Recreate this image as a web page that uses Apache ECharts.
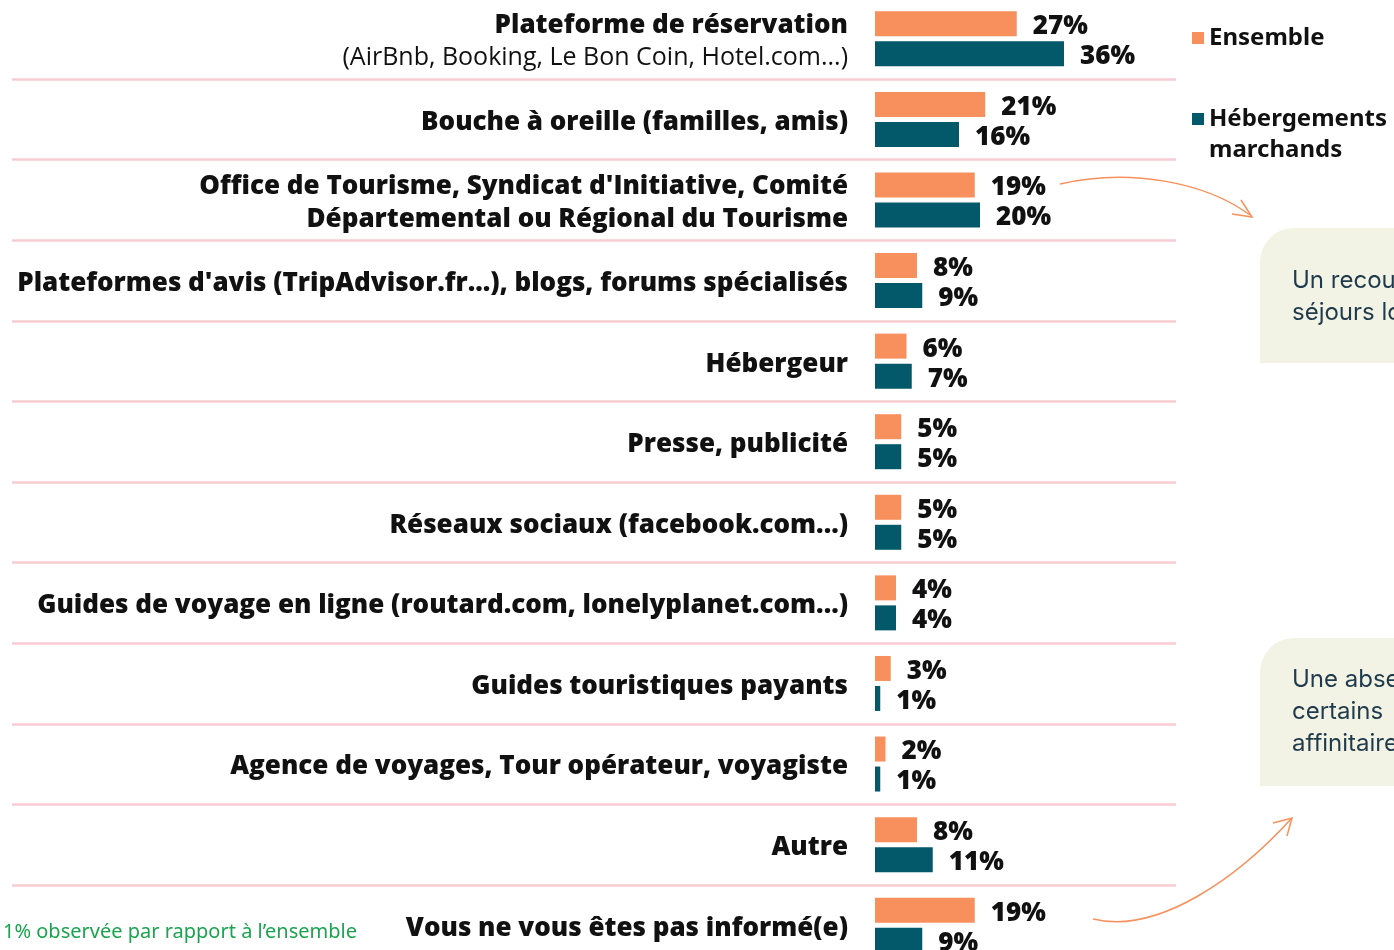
<!DOCTYPE html>
<html>
<head>
<meta charset="utf-8">
<script src="https://cdn.jsdelivr.net/npm/echarts@6/dist/echarts.min.js"></script>
<style>
  html, body { margin: 0; padding: 0; background: #fff; }
  #chart { width: 1394px; height: 950px; }
</style>
</head>
<body>
<div id="chart"></div>
<script>
// sources d'information
const categories = [
  'Plateforme de réservation',
  'Bouche à oreille (familles, amis)',
  "Office de Tourisme, Syndicat d'Initiative, Comité\nDépartemental ou Régional du Tourisme",
  "Plateformes d'avis (TripAdvisor.fr...), blogs, forums spécialisés",
  'Hébergeur',
  'Presse, publicité',
  'Réseaux sociaux (facebook.com...)',
  'Guides de voyage en ligne (routard.com, lonelyplanet.com...)',
  'Guides touristiques payants',
  'Agence de voyages, Tour opérateur, voyagiste',
  'Autre',
  'Vous ne vous êtes pas informé(e)'
];
const categoryNotes = ['(AirBnb, Booking, Le Bon Coin, Hotel.com...)', '', '', '', '', '', '', '', '', '', '', ''];
const ensemble = [27, 21, 19, 8, 6, 5, 5, 4, 3, 2, 8, 19];
const hebergements = [36, 16, 20, 9, 7, 5, 5, 4, 1, 1, 11, 9];

const orange = '#f7905c';
const teal = '#03596a';
const font = 'Open Sans';

const chart = echarts.init(document.getElementById('chart'));

const valueLabel = {
  show: true,
  position: 'right',
  distance: 16,
  offset: [0, 3],
  formatter: '{c}%',
  fontFamily: font,
  fontSize: 26,
  fontWeight: 800,
  color: '#111'
};

const legendText = { fontFamily: 'Noto Sans', fontSize: 24, fontWeight: 'bold', lineHeight: 31, color: '#111' };

const option = {
  backgroundColor: '#fff',
  animation: false,
  legend: [
    {
      data: ['Ensemble'],
      left: 1192, top: 22.5, padding: 0,
      icon: 'rect', itemWidth: 12, itemHeight: 12,
      textStyle: legendText
    },
    {
      data: ['Hébergements marchands'],
      left: 1192, top: 72.5, padding: 0,
      icon: 'rect', itemWidth: 12, itemHeight: 12,
      formatter: () => '\nHébergements\nmarchands',
      textStyle: legendText
    }
  ],
  grid: [
    { left: 12, width: 1164, top: -1.5, height: 967, outerBoundsMode: 'none', containLabel: false },
    { left: 875, width: 262.5, top: -1.5, height: 967, outerBoundsMode: 'none', containLabel: false }
  ],
  xAxis: [
    { gridIndex: 0, type: 'value', show: false, min: 0, max: 1 },
    { gridIndex: 1, type: 'value', show: false, min: 0, max: 50 }
  ],
  yAxis: [
    {
      gridIndex: 0, type: 'category', data: categories, inverse: true,
      axisLine: { show: false }, axisTick: { show: false }, axisLabel: { show: false },
      splitLine: { show: true, lineStyle: { color: '#f8cbd3', width: 2.5 } }
    },
    {
      gridIndex: 1, type: 'category', data: categories, inverse: true,
      axisLine: { show: false }, axisTick: { show: false }, splitLine: { show: false },
      axisLabel: {
        margin: 27,
        align: 'right',
        padding: [6, 0, 0, 0],
        formatter: (value, index) => {
          let s = value.split('\n').map(l => '{b|' + l + '}').join('\n');
          if (categoryNotes[index]) s += '\n{n|' + categoryNotes[index] + '}';
          return s;
        },
        rich: {
          b: { fontFamily: font, fontSize: 26, fontWeight: 800, color: '#111', lineHeight: 33 },
          n: { fontFamily: font, fontSize: 25, fontWeight: 'normal', color: '#111', lineHeight: 33 }
        }
      }
    }
  ],
  series: [
    {
      name: 'Ensemble', type: 'bar', xAxisIndex: 1, yAxisIndex: 1,
      data: ensemble, barWidth: 25, barGap: '20%',
      itemStyle: { color: orange },
      label: valueLabel
    },
    {
      name: 'Hébergements marchands', type: 'bar', xAxisIndex: 1, yAxisIndex: 1,
      data: hebergements, barWidth: 25, barGap: '20%',
      itemStyle: { color: teal },
      label: valueLabel
    }
  ],
  graphic: [
    // encadrés de commentaire
    { type: 'rect', shape: { x: 1260, y: 228, width: 400, height: 135, r: [34, 0, 0, 0] }, style: { fill: '#f2f3e4' }, silent: true },
    { type: 'text', x: 1292, y: 265, style: { text: 'Un recours plus marqué aux offices de tourisme\nséjours longs', font: '24px Inter', fill: '#1f3a4c', lineHeight: 32 } },
    { type: 'rect', shape: { x: 1260, y: 638, width: 400, height: 148, r: [34, 0, 0, 0] }, style: { fill: '#f2f3e4' }, silent: true },
    { type: 'text', x: 1292, y: 664, style: { text: "Une absence d'information plus fréquente\ncertains  profils\naffinitaires", font: '24px Inter', fill: '#1f3a4c', lineHeight: 32 } },
    // flèches
    { type: 'bezierCurve', shape: { x1: 1060, y1: 184, cpx1: 1130, cpy1: 168, cpx2: 1205, cpy2: 182, x2: 1250, y2: 215 }, style: { stroke: orange, lineWidth: 1.5, fill: null } },
    { type: 'polyline', shape: { points: [[1241, 200], [1252, 217], [1232, 214]] }, style: { stroke: orange, lineWidth: 1.5, fill: null } },
    { type: 'bezierCurve', shape: { x1: 1093, y1: 919, cpx1: 1160, cpy1: 935, cpx2: 1240, cpy2: 875, x2: 1291, y2: 819 }, style: { stroke: orange, lineWidth: 1.5, fill: null } },
    { type: 'polyline', shape: { points: [[1273, 823], [1292, 818], [1287, 836]] }, style: { stroke: orange, lineWidth: 1.5, fill: null } },
    // note de bas de page
    { type: 'text', x: 3, y: 922, style: { text: '1% observée par rapport à l’ensemble', font: '20px "Noto Sans"', fill: '#1ba44f' } }
  ]
};

chart.setOption(option);
</script>
</body>
</html>
